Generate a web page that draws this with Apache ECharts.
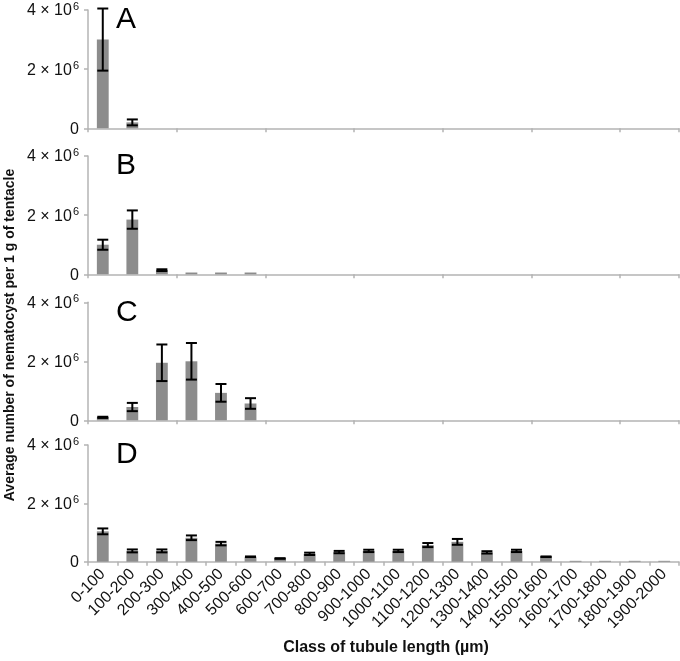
<!DOCTYPE html>
<html>
<head>
<meta charset="utf-8">
<script src="https://cdn.jsdelivr.net/npm/echarts@6/dist/echarts.min.js"></script>
<style>html,body{margin:0;padding:0;background:#fff}#c{width:680px;height:661px}</style>
</head>
<body>
<div id="c"></div>
<script>
var categories = ['0-100','100-200','200-300','300-400','400-500','500-600','600-700','700-800','800-900','900-1000','1000-1100','1100-1200','1200-1300','1300-1400','1400-1500','1500-1600','1600-1700','1700-1800','1800-1900','1900-2000'];
var panelLabels = ['A','B','C','D'];
var yTicks = [0, 2000000, 4000000];
var meanA = [3000000,200000,0,0,0,0,0,0,0,0,0,0,0,0,0,0,0,0,0,0];
var errA  = [1050000,100000,0,0,0,0,0,0,0,0,0,0,0,0,0,0,0,0,0,0];
var meanB = [1000000,1850000,140000,60000,60000,60000,0,0,0,0,0,0,0,0,0,0,0,0,0,0];
var errB  = [170000,310000,30000,0,0,0,0,0,0,0,0,0,0,0,0,0,0,0,0,0];
var meanC = [100000,450000,1950000,2000000,930000,570000,0,0,0,0,0,0,0,0,0,0,0,0,0,0];
var errC  = [20000,140000,620000,620000,300000,180000,0,0,0,0,0,0,0,0,0,0,0,0,0,0];
var meanD = [1040000,370000,370000,820000,620000,170000,110000,270000,330000,370000,370000,570000,680000,320000,370000,170000,30000,30000,30000,30000];
var errD  = [100000,50000,50000,80000,60000,10000,10000,40000,40000,40000,40000,70000,100000,40000,40000,10000,0,0,0,0];

var means = [meanA, meanB, meanC, meanD];
var errs = [errA, errB, errC, errD];
var gridTops = [10, 156, 302.3, 445];
var gridHeights = [118.3, 118.3, 118, 116.7];

var chart = echarts.init(document.getElementById('c'), null, {renderer: 'canvas'});
var grids = [], xAxes = [], yAxes = [], series = [], graphics = [];
var axisColor = '#b4b4b4';
function fmtY(v) {
  if (v === 0) return '{n|0}';
  return '{n|' + (v / 1000000) + ' × 10}{s|6}';
}
for (var p = 0; p < 4; p++) {
  grids.push({left: 88, right: 1, top: gridTops[p], height: gridHeights[p]});
  xAxes.push({
    type: 'category', gridIndex: p, data: categories,
    axisLine: {lineStyle: {color: axisColor, width: 1.5}},
    axisTick: {show: true, length: 4, lineStyle: {color: axisColor, width: 1.5}},
    axisLabel: p === 3 ? {show: true, rotate: 45, interval: 0, margin: 10, color: '#111', fontSize: 16, fontFamily: 'Liberation Sans, Arial'} : {show: false}
  });
  yAxes.push({
    type: 'value', gridIndex: p, min: 0, max: 4000000, interval: 2000000,
    splitLine: {show: false},
    axisLine: {show: true, lineStyle: {color: axisColor, width: 1.5}},
    axisTick: {show: true, length: 4, lineStyle: {color: axisColor, width: 1.5}},
    axisLabel: {
      margin: 9, formatter: fmtY,
      rich: {
        n: {fontSize: 16, fontFamily: 'Liberation Sans, Arial', color: '#111', lineHeight: 18, verticalAlign: 'bottom'},
        s: {fontSize: 11, fontFamily: 'Liberation Sans, Arial', color: '#111', lineHeight: 18, verticalAlign: 'top', padding: [0, 0, 6, 1]}
      }
    }
  });
  series.push({
    type: 'bar', xAxisIndex: p, yAxisIndex: p, data: means[p], barWidth: '40%',
    itemStyle: {color: '#8c8c8c'}, silent: true, animation: false
  });
  var ed = [];
  for (var i = 0; i < categories.length; i++) {
    if (errs[p][i] > 0) ed.push([i, means[p][i], errs[p][i]]);
  }
  series.push({
    type: 'custom', xAxisIndex: p, yAxisIndex: p, data: ed, animation: false, silent: true, z: 5,
    renderItem: function (params, api) {
      var i = api.value(0), m = api.value(1), e = api.value(2);
      var top = api.coord([i, m + e]);
      var bot = api.coord([i, Math.max(0, m - e)]);
      var hw = 5.5;
      var st = {stroke: '#000', lineWidth: 2};
      return {type: 'group', children: [
        {type: 'line', shape: {x1: top[0], y1: top[1], x2: bot[0], y2: bot[1]}, style: st},
        {type: 'line', shape: {x1: top[0] - hw, y1: top[1], x2: top[0] + hw, y2: top[1]}, style: st},
        {type: 'line', shape: {x1: bot[0] - hw, y1: bot[1], x2: bot[0] + hw, y2: bot[1]}, style: st}
      ]};
    }
  });
  graphics.push({
    type: 'text', left: 116, top: gridTops[p] - 5,
    style: {text: panelLabels[p], font: '30px "Liberation Sans", Arial', fill: '#000'}
  });
}
graphics.push({
  type: 'text', x: 10, y: 335, rotation: Math.PI / 2,
  style: {text: 'Average number of nematocyst per 1 g of tentacle', font: 'bold 14px "Liberation Sans", Arial', fill: '#111', align: 'center', verticalAlign: 'middle'}
});
graphics.push({
  type: 'text', x: 386, y: 648,
  style: {text: 'Class of tubule length (µm)', font: 'bold 16px "Liberation Sans", Arial', fill: '#111', align: 'center', verticalAlign: 'middle'}
});
chart.setOption({
  animation: false,
  grid: grids, xAxis: xAxes, yAxis: yAxes, series: series, graphic: graphics
});
</script>
</body>
</html>
